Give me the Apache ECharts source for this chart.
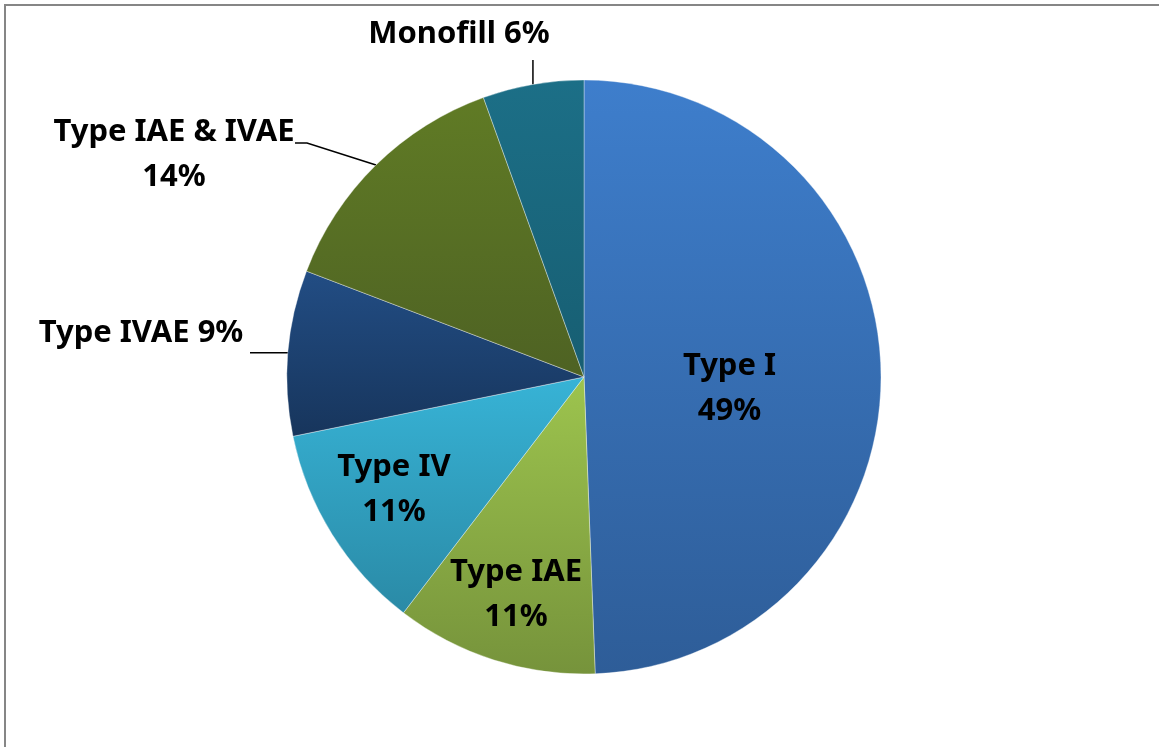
<!DOCTYPE html>
<html>
<head>
<meta charset="utf-8">
<script src="https://cdn.jsdelivr.net/npm/echarts@6/dist/echarts.min.js"></script>
<style>
html, body { margin: 0; padding: 0; background: #fff; }
#chart { width: 1159px; height: 747px; }
</style>
</head>
<body>
<div id="chart"></div>
<script>
// data (clockwise from 12 o'clock)
var categories = ['Type I', 'Type IAE', 'Type IV', 'Type IVAE', 'Type IAE & IVAE', 'Monofill'];
var values = [49.4, 11.0, 11.4, 9.0, 13.7, 5.5];
var topColors = ['#3E7ECC', '#9DC44E', '#37B3D6', '#224D84', '#607B25', '#1C6F87'];
var bottomColors = ['#2E5D98', '#76933B', '#2A8AA6', '#17355C', '#4E6223', '#175E72'];
var insideLabel = [true, true, true, false, false, false];
var twoLine = [true, true, true, false, true, false];

var cx = 584, cy = 377, R = 297;

var chart = echarts.init(document.getElementById('chart'));

// point on the rim at the middle of slice i
var total = 0;
for (var k = 0; k < values.length; k++) total += values[k];
function rimPoint(i) {
	var cum = 0;
	for (var j = 0; j < i; j++) cum += values[j];
	var a = (cum + values[i] / 2) / total * Math.PI * 2;
	return [cx + R * Math.sin(a), cy - R * Math.cos(a)];
}

var pieData = [];
for (var i = 0; i < categories.length; i++) {
	pieData.push({
		name: categories[i],
		value: values[i],
		itemStyle: {
			color: new echarts.graphic.LinearGradient(0, 0, 0, 1, [
				{ offset: 0, color: topColors[i] },
				{ offset: 1, color: bottomColors[i] }
			])
		},
		label: {
			position: insideLabel[i] ? 'inside' : 'outside'
		}
	});
}

var option = {
	backgroundColor: '#fff',
	animation: false,
	graphic: [{
		type: 'rect',
		shape: { x: 5, y: 5, width: 1170, height: 760 },
		style: { fill: 'none', stroke: '#868686', lineWidth: 2 }
	}],
	series: [{
		type: 'pie',
		center: [cx, cy],
		radius: R,
		startAngle: 90,
		clockwise: true,
		percentPrecision: 0,
		avoidLabelOverlap: false,
		itemStyle: {
			borderColor: 'rgba(255,255,255,0.6)',
			borderWidth: 0.6
		},
		label: {
			color: '#000',
			fontFamily: 'Noto Sans',
			fontWeight: 'bold',
			fontSize: 31,
			lineHeight: 45,
			align: 'center',
			formatter: function (p) {
				return twoLine[p.dataIndex] ? p.name + '\n' + p.percent + '%' : p.name + ' ' + p.percent + '%';
			}
		},
		labelLine: {
			show: true,
			length: 20,
			length2: 40,
			lineStyle: { color: '#000', width: 1.5 }
		},
		labelLayout: function (p) {
			var idx = p.dataIndex;
			if (idx === 0) {
				return { dx: -6, dy: 15 };
			}
			if (idx === 1 || idx === 2) {
				// push the small inside labels toward the rim
				var lx = p.labelRect.x + p.labelRect.width / 2;
				var ly = p.labelRect.y + p.labelRect.height / 2;
				return { dx: (lx - cx) * 0.48, dy: (ly - cy) * 0.48 + (idx === 1 ? 4 : -6) };
			}
			var e = rimPoint(idx);
			if (idx === 3) {
				return { x: 141, y: 333, align: 'center', verticalAlign: 'middle',
					labelLinePoints: [e, [250, e[1]], [250, e[1]]] };
			}
			if (idx === 4) {
				return { x: 174, y: 155, align: 'center', verticalAlign: 'middle',
					labelLinePoints: [e, [307, 143], [295, 143]] };
			}
			return { x: 459, y: 34, align: 'center', verticalAlign: 'middle',
				labelLinePoints: [e, [e[0], 60], [e[0], 60]] };
		},
		data: pieData
	}]
};

chart.setOption(option);
</script>
</body>
</html>
